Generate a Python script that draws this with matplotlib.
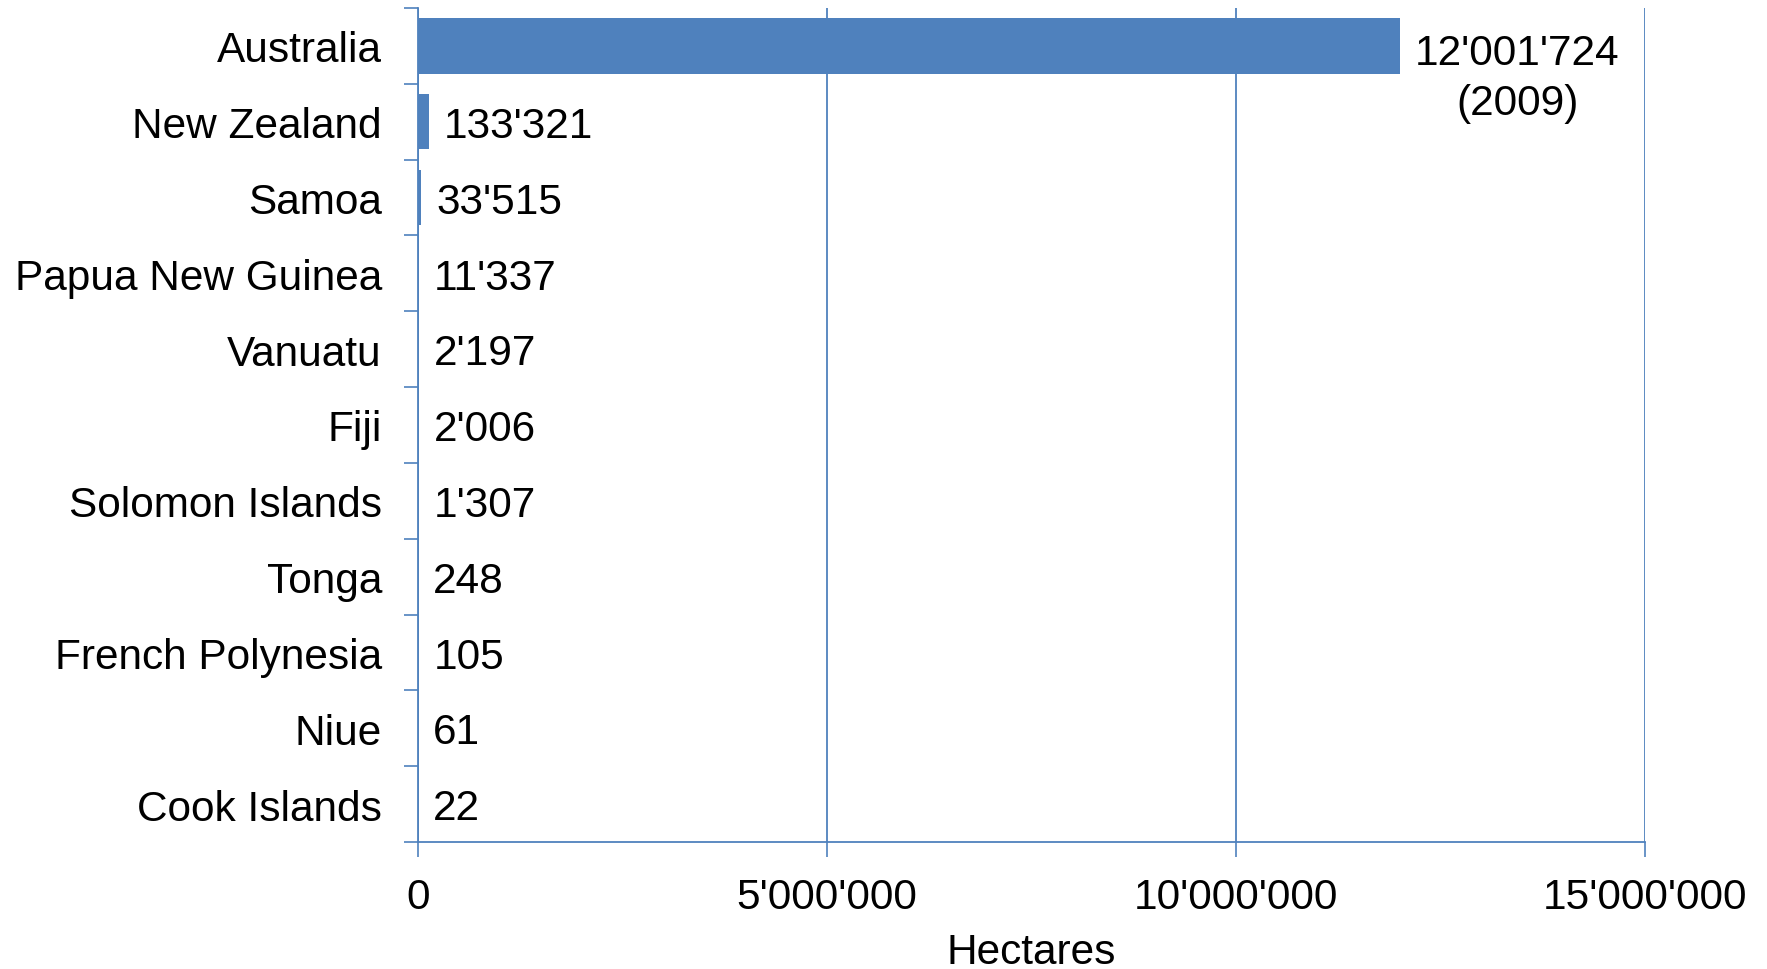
import matplotlib
matplotlib.use("Agg")
import matplotlib.pyplot as plt
import numpy as np

paises = ["Australia", "New Zealand", "Samoa", "Papua New Guinea", "Vanuatu", "Fiji",
          "Solomon Islands", "Tonga", "French Polynesia", "Niue", "Cook Islands"]
hectares = [12001724, 133321, 33515, 11337, 2197, 2006, 1307, 248, 105, 61, 22]
anos = {"Australia": "2009"}
xticks = [0, 5000000, 10000000, 15000000]

azul = "#4F81BD"
plt.rcParams['font.family'] = ['Liberation Sans', 'DejaVu Sans']
fs = 30.5

def fmt(v):
    return f"{v:,}".replace(",", "'")

fig = plt.figure(figsize=(17.67, 9.70), dpi=100)
ax = fig.add_axes([418/1767, 1 - 843/970, (1645-418)/1767, (843-9)/970])

y = np.arange(len(paises))
ax.barh(y, hectares, height=0.73, color=azul, zorder=3)

ax.set_xlim(0, 15000000)
ax.set_ylim(len(paises) - 0.5, -0.5)

ax.set_xticks(xticks)
ax.set_xticklabels([fmt(t) for t in xticks], fontsize=fs)
ax.set_yticks(y)
ax.set_yticklabels(paises, fontsize=fs)
ax.set_yticks(np.arange(-0.5, len(paises), 1), minor=True)
ax.tick_params(axis='y', which='major', length=0, pad=26)
ax.tick_params(axis='y', which='minor', length=10, color=azul, width=1.2)
ax.tick_params(axis='x', length=11, color=azul, width=1.2, pad=14)

ax.grid(axis='x', color=azul, linewidth=1.3, zorder=0)
for s in ['top', 'right']:
    ax.spines[s].set_visible(False)
for s in ['left', 'bottom']:
    ax.spines[s].set_color(azul)
    ax.spines[s].set_linewidth(1.3)

ax.set_xlabel("Hectares", fontsize=fs, labelpad=11)

for i, (p, v) in enumerate(zip(paises, hectares)):
    if p in anos:
        ax.annotate(fmt(v) + "\n(" + anos[p] + ")", (v, i), xytext=(11, 9),
                    textcoords='offset points', ha='left', va='top',
                    multialignment='center', fontsize=fs, linespacing=1.3)
    else:
        ax.annotate(fmt(v), (v, i), xytext=(11, -3), textcoords='offset points',
                    ha='left', va='center', fontsize=fs)

fig.savefig("out.png", dpi=100)
